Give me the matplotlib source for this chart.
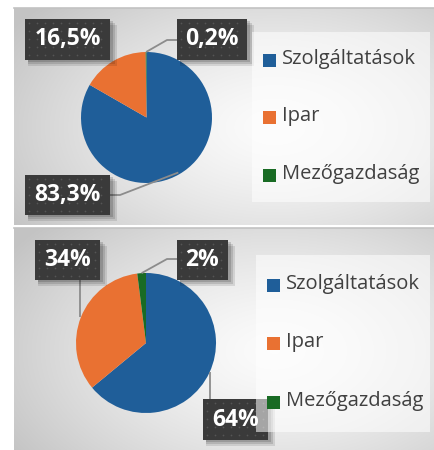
import matplotlib.pyplot as plt
from matplotlib.patches import Rectangle
import numpy as np

# adatok
kategoriak = ['Szolgáltatások', 'Ipar', 'Mezőgazdaság']
ertekek_felso = [83.3, 16.5, 0.2]
cimkek_felso = ['83,3%', '16,5%', '0,2%']
ertekek_also = [64, 34, 2]
cimkek_also = ['64%', '34%', '2%']
szinek = ['#1F5E99', '#E97132', '#196B24']

W, H = 435, 450
fig = plt.figure(figsize=(W / 100, H / 100), dpi=100)
ax = fig.add_axes([0, 0, 1, 1])
ax.set_xlim(0, W)
ax.set_ylim(0, H)
ax.set_aspect('equal')
ax.axis('off')


def Y(y):
    # pixel y (felulrol) -> adat y
    return H - y


def panel(x0, y0, x1, y1):
    nx, ny = 200, 120
    xx, yy = np.meshgrid(np.linspace(0, 1, nx), np.linspace(0, 1, ny))
    d = np.sqrt(((xx - 0.62) / 0.75) ** 2 + ((yy - 0.55) / 0.85) ** 2)
    v = 0.985 - 0.22 * np.clip(d, 0, 1) ** 1.4
    img = np.dstack([v, v, v])
    ax.imshow(img, extent=(x0, x1, Y(y1), Y(y0)), origin='upper',
              interpolation='bilinear', zorder=0, aspect='auto')
    ax.plot([x0, x1], [Y(y0), Y(y0)], color='#c2c2c2', lw=1.2, zorder=1)


def cimke(szoveg, x0, y0, x1, y1):
    # arnyek
    for k, a in [(6, 0.10), (4, 0.12), (2, 0.15)]:
        ax.add_patch(Rectangle((x0 + 3, Y(y1) - k), x1 - x0 + k - 2, y1 - y0,
                               facecolor='black', alpha=a, lw=0, zorder=4))
    ax.add_patch(Rectangle((x0, Y(y1)), x1 - x0, y1 - y0,
                           facecolor='#3a3a3a', lw=0, zorder=5))
    # pontozott minta
    px = np.arange(x0 + 4, x1 - 2, 8)
    py = np.arange(y0 + 4, y1 - 2, 8)
    gx, gy = np.meshgrid(px, py)
    ax.scatter(gx.ravel(), Y(gy.ravel()), s=1.5, color='#555555', lw=0, zorder=6)
    ax.text((x0 + x1) / 2, Y((y0 + y1) / 2), szoveg, color='white',
            fontsize=16.5, fontweight='bold', family='Open Sans',
            ha='center', va='center', zorder=7)


def vonal(pontok):
    xs = [p[0] for p in pontok]
    ys = [Y(p[1]) for p in pontok]
    ax.plot(xs, ys, color='#8c8c8c', lw=1.3, zorder=3, solid_capstyle='butt')


def szelet_pont(ertekek, idx, cx, cy, r, frac=1.0):
    # a szelet kozepenek iranya a kor peremen
    osszeg = sum(ertekek)
    kezd = sum(ertekek[:idx]) / osszeg
    kozep = kezd + ertekek[idx] / osszeg / 2
    szog = np.deg2rad(90 - 360 * kozep)
    return cx + r * frac * np.cos(szog), cy - r * frac * np.sin(szog)


def jelmagyarazat(x0, y0, x1, y1, sorok_y):
    ax.add_patch(Rectangle((x0, Y(y1)), x1 - x0, y1 - y0,
                           facecolor='white', alpha=0.55, lw=0, zorder=8))
    for kat, szin, sy in zip(kategoriak, szinek, sorok_y):
        ax.add_patch(Rectangle((x0 + 11, Y(sy) - 6.5), 13, 13,
                               facecolor=szin, lw=0, zorder=9))
        ax.text(x0 + 30, Y(sy) + 1, kat, color='#404040', fontsize=14.5,
                family='Open Sans', va='center', ha='left', zorder=9)


# felso panel
panel(14, 8, W, 225)
cx, cy, r = 146.5, 117.5, 65.5
ax.pie(ertekek_felso, colors=szinek, startangle=90, counterclock=False,
       center=(cx, Y(cy)), radius=r, frame=True,
       wedgeprops=dict(linewidth=0, zorder=2))
px, py = szelet_pont(ertekek_felso, 2, cx, cy, r)
vonal([(px, py), (167, 40), (177, 40)])
px, py = szelet_pont(ertekek_felso, 0, cx, cy, r, 0.97)
vonal([(px, py), (120, 195), (110, 195)])
cimke(cimkek_felso[1], 25, 19, 110, 60)
cimke(cimkek_felso[2], 177, 19, 247, 60)
cimke(cimkek_felso[0], 25, 175, 110, 215)
jelmagyarazat(252, 32, 430, 202, [60, 117, 175])

# also panel
panel(14, 228, W, H + 2)
cx, cy, r = 146, 343, 70
ax.pie(ertekek_also, colors=szinek, startangle=90, counterclock=False,
       center=(cx, Y(cy)), radius=r, frame=True,
       wedgeprops=dict(linewidth=0, zorder=2))
px, py = szelet_pont(ertekek_also, 2, cx, cy, r)
vonal([(px, py), (167, 259), (177, 259)])
vonal([(80, 317), (80, 280)])
vonal([(210, 372), (210, 399)])
cimke(cimkek_also[1], 35, 240, 100, 280)
cimke(cimkek_also[2], 177, 240, 228, 280)
cimke(cimkek_also[0], 203, 399, 268, 440)
jelmagyarazat(256, 255, 430, 432, [285, 343, 402])

ax.set_xlim(0, W)
ax.set_ylim(0, H)
ax.axis('off')
fig.savefig('out.png', dpi=100, facecolor='white')
